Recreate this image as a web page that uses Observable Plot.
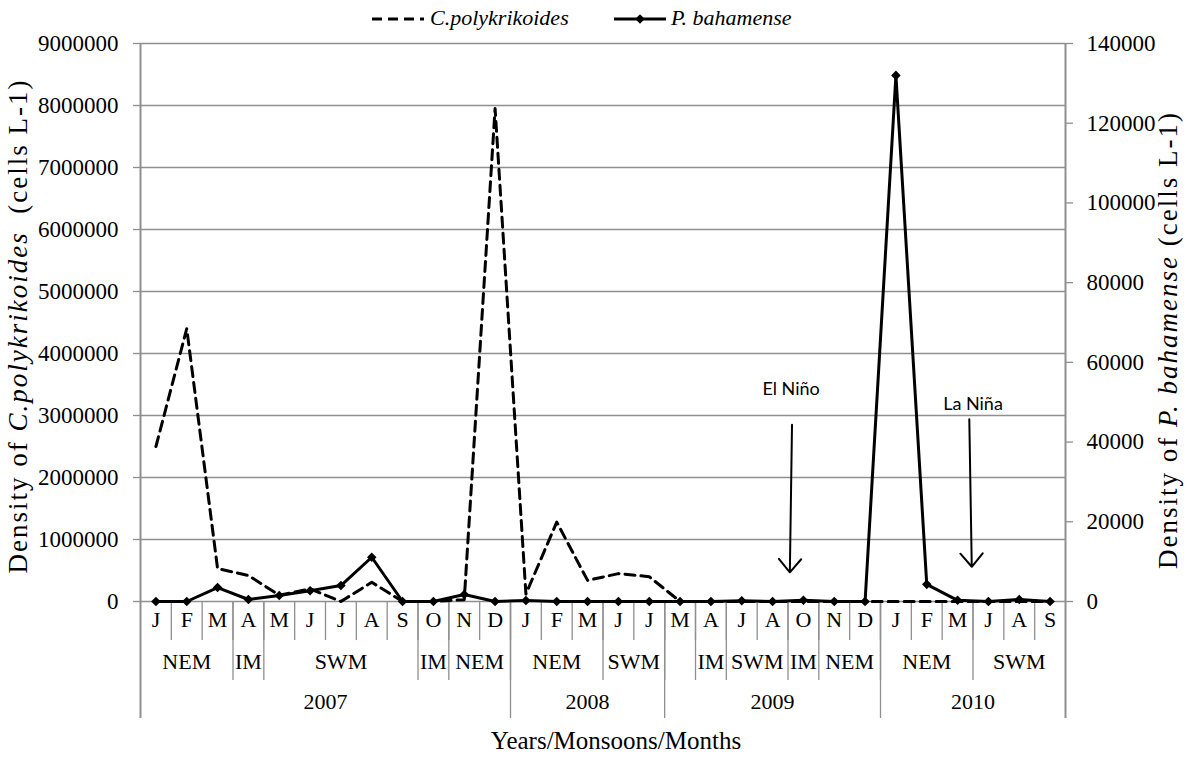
<!DOCTYPE html>
<html>
<head>
<meta charset="utf-8">
<script src="https://cdn.jsdelivr.net/npm/d3@7"></script>
<script src="https://cdn.jsdelivr.net/npm/@observablehq/plot@0.6"></script>
<style>
  body { margin: 0; background: white; }
  #legend { position: relative; height: 34px; width: 1189px; font-family: "Liberation Serif"; font-size: 22px; font-style: italic; }
  #legend span { position: absolute; top: 6px; line-height: 24px; white-space: nowrap; }
  #legend svg { position: absolute; top: 8px; }
  #chart svg { overflow: visible; }
</style>
</head>
<body>
<div id="legend"></div>
<div id="chart"></div>
<script>
// ---- data ----
const months = ["J","F","M","A","M","J","J","A","S","O","N","D",
                "J","F","M","J","J",
                "M","A","J","A","O","N","D",
                "J","F","M","J","A","S"];
const monsoonLabels = ["NEM","IM","SWM","IM","NEM", "NEM","SWM", "","IM","SWM","IM","NEM", "NEM","SWM"];
const monsoonSpans  = [3,1,5,1,2, 3,2, 1,1,2,1,2, 3,3];
const years = ["2007","2008","2009","2010"];
const yearSpans = [12,5,7,6];
const seriesNames = ["C.polykrikoides","P. bahamense"];
const cPoly = [2500000,4400000,530000,420000,100000,205000,0,310000,0,0,30000,7950000,
               120000,1280000,340000,450000,400000,
               0,0,0,0,0,0,0,
               0,0,0,0,0,0];
const pBaha = [0,0,3500,500,1500,2700,4000,11100,0,0,1750,0,
               250,0,0,0,0,
               0,0,200,0,300,0,0,
               132000,4300,300,0,500,0];
const leftTicks = [0,1000000,2000000,3000000,4000000,5000000,6000000,7000000,8000000,9000000];
const rightTicks = [0,20000,40000,60000,80000,100000,120000,140000];
const annotations = [
  {label: "El Niño", tx: 20.6, ty: 3420000, x1: 20.63, y1: 2850000, x2: 20.56, y2: 470000},
  {label: "La Niña", tx: 26.5, ty: 3180000, x1: 26.38, y1: 2940000, x2: 26.46, y2: 560000}
];

// ---- helpers ----
const factor = 9000000 / 140000;
function spans(labels, sp) {
  let s = 0;
  return labels.map((l, i) => { const start = s; s += sp[i]; return {label: l, start, end: s}; });
}
const monsoonItems = spans(monsoonLabels, monsoonSpans);
const yearItems = spans(years, yearSpans);
const monthIdx = months.map((m, i) => i);
const GRAY = "#8f8f8f";

const cData = cPoly.map((v, i) => ({i, v}));
const pData = pBaha.map((v, i) => ({i, v}));

const chart = Plot.plot({
  width: 1189,
  height: 726,
  marginTop: 9,
  marginLeft: 140,
  marginRight: 124,
  marginBottom: 159,
  x: {domain: [-0.5, months.length - 0.5], axis: null},
  y: {domain: [0, 9000000], axis: null},
  style: {fontFamily: "Liberation Serif", fontSize: "22px", color: "black", background: "white"},
  marks: [
    Plot.gridY(leftTicks, {stroke: GRAY, strokeOpacity: 1, strokeWidth: 1.3}),
    Plot.axisY(leftTicks, {anchor: "left", tickSize: 7, tickPadding: 15, tickFormat: d => String(d), stroke: GRAY, strokeWidth: 1.3, label: null, fontSize: 23}),
    Plot.axisY(rightTicks.map(v => v * factor), {anchor: "right", tickSize: 7, tickPadding: 14, tickFormat: d => String(Math.round(d / factor)), stroke: GRAY, strokeWidth: 1.3, label: null, fontSize: 23}),
    // month separators
    Plot.ruleX(monthIdx.slice(1), {x: d => d - 0.5, stroke: GRAY, strokeWidth: 1.3, insetTop: 558, insetBottom: -39}),
    // monsoon separators
    Plot.ruleX(monsoonItems.slice(0, -1), {x: d => d.end - 0.5, stroke: GRAY, strokeWidth: 1.3, insetTop: 558, insetBottom: -79}),
    // year separators and axis lines
    Plot.ruleX(yearItems.slice(0, -1), {x: d => d.end - 0.5, stroke: GRAY, strokeWidth: 1.3, insetTop: 558, insetBottom: -117}),
    Plot.ruleX([-0.5, months.length - 0.5], {stroke: GRAY, strokeWidth: 2, insetBottom: -117}),
    // category labels
    Plot.text(months, {x: (d, i) => i, text: d => d, frameAnchor: "bottom", dy: 25, fontSize: 22}),
    Plot.text(monsoonItems, {x: d => (d.start + d.end) / 2 - 0.5, text: "label", frameAnchor: "bottom", dy: 67, fontSize: 22}),
    Plot.text(yearItems, {x: d => (d.start + d.end) / 2 - 0.5, text: "label", frameAnchor: "bottom", dy: 107, fontSize: 22}),
    Plot.text(["Years/Monsoons/Months"], {frameAnchor: "bottom", dx: 13, dy: 147, fontSize: 25}),
    // series
    Plot.line(cData, {x: "i", y: "v", stroke: "black", strokeWidth: 3, strokeDasharray: "10,6"}),
    Plot.line(pData, {x: "i", y: d => d.v * factor, stroke: "black", strokeWidth: 3}),
    Plot.dot(pData, {x: "i", y: d => d.v * factor, symbol: "diamond2", r: 4.3, fill: "black", stroke: "none"}),
    // annotations
    Plot.arrow(annotations, {x1: "x1", y1: "y1", x2: "x2", y2: "y2", stroke: "black", strokeWidth: 2, headLength: 13, headAngle: 80}),
    Plot.text(annotations, {x: "tx", y: "ty", text: "label", fontFamily: "Lato", fontSize: 18})
  ]
});
document.getElementById("chart").appendChild(chart);

// rotated axis titles with italic species names
const svg = d3.select(chart);
function vTitle(x, y, parts) {
  const t = svg.append("text")
    .attr("transform", `translate(${x},${y}) rotate(-90)`)
    .attr("text-anchor", "middle")
    .attr("dominant-baseline", "middle")
    .attr("font-family", "Liberation Serif")
    .attr("font-size", 27)
    .attr("letter-spacing", 2)
    .attr("fill", "black")
    .style("white-space", "pre");
  parts.forEach(p => t.append("tspan").attr("font-style", p.italic ? "italic" : "normal").text(p.t));
}
vTitle(21, 326 - 34, [{t: "Density of "}, {t: seriesNames[0], italic: true}, {t: "  (cells L-1)"}]);
vTitle(1171, 340 - 34, [{t: "Density of "}, {t: seriesNames[1], italic: true}, {t: " (cells L-1)"}]);

// legend
const legend = d3.select("#legend");
function legendItem(x, dashed, marker, label, textX) {
  const s = legend.append("svg").attr("width", 56).attr("height", 22).style("left", x + "px");
  s.append("line").attr("x1", 2).attr("x2", 54).attr("y1", 11).attr("y2", 11)
    .attr("stroke", "black").attr("stroke-width", 3).attr("stroke-dasharray", dashed ? "10,6" : null);
  if (marker) s.append("path").attr("d", d3.symbol(d3.symbolDiamond2, Math.PI * 4.3 * 4.3)()).attr("transform", "translate(28,11)").attr("fill", "black");
  legend.append("span").style("left", textX + "px").text(label);
}
legendItem(370, true, false, seriesNames[0], 430);
legendItem(612, false, true, seriesNames[1], 671);
</script>
</body>
</html>
